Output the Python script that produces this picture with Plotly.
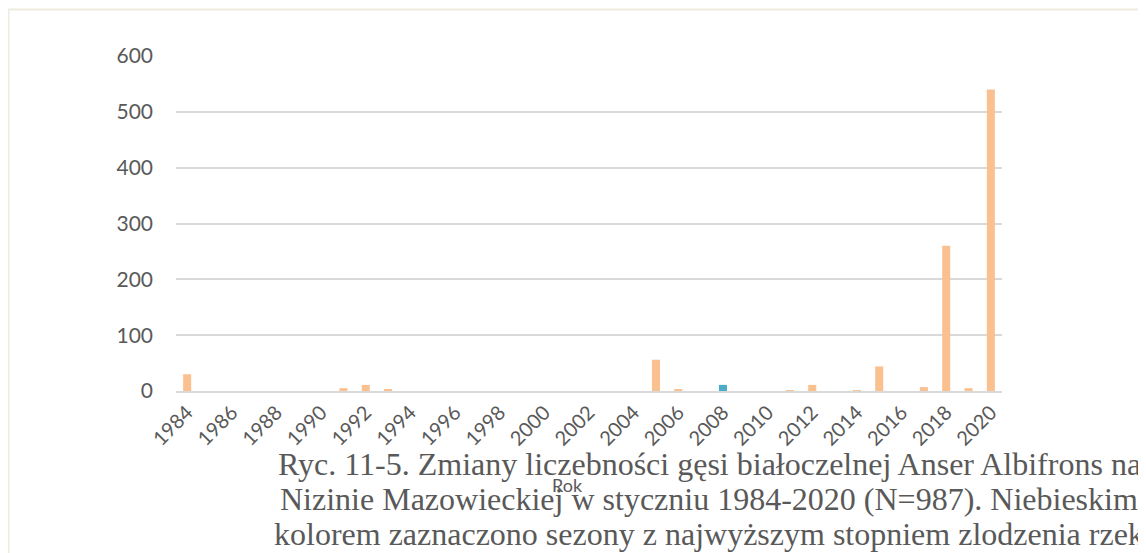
import plotly.graph_objects as go

years = list(range(1984, 2021))
counts = [30, 0, 0, 0, 0, 0, 0, 5, 11, 2, 0, 0, 0, 0, 0, 0, 0, 0, 0, 0, 0,
          56, 3, 0, 11, 0, 0, 1, 11, 0, 1, 44, 0, 7, 260, 5, 540]
blue_years = [2008]
tick_years = list(range(1984, 2021, 2))
y_ticks = [0, 100, 200, 300, 400, 500, 600]
caption_lines = [
    "Ryc. 11-5. Zmiany liczebności gęsi białoczelnej Anser Albifrons na",
    "Nizinie Mazowieckiej w styczniu 1984-2020 (N=987). Niebieskim",
    "kolorem zaznaczono sezony z najwyższym stopniem zlodzenia rzek",
]
x_title = "Rok"

OFF = 8  # page body margin
W, H = 1146 - OFF, 553 - OFF
L, R, T, B = 176 - OFF, 1002 - OFF, 56 - OFF, 391 - OFF
pw, ph = R - L, B - T

def px(x):  # window pixel -> paper
    return (x - OFF - L) / pw

def py(y):
    return (B - (y - OFF)) / ph

colors = ["#4BACC6" if y in blue_years else "#FAC090" for y in years]

fig = go.Figure()
fig.add_trace(go.Bar(x=[str(y) for y in years], y=counts,
                     marker=dict(color=colors, line=dict(width=0)), width=0.36))

fig.update_layout(
    width=W, height=H,
    margin=dict(l=L, r=W - R, t=T, b=H - B),
    plot_bgcolor="white", paper_bgcolor="white",
    showlegend=False,
    font=dict(family="Lato, Open Sans, sans-serif", color="#595959", size=20),
)
fig.update_xaxes(
    type="category",
    tickmode="array",
    tickvals=[str(y) for y in tick_years],
    ticktext=[str(y) for y in tick_years],
    tickangle=-45,
    tickfont=dict(size=20, color="#595959"),
    showgrid=False,
    showline=True, linecolor="#D9D9D9", linewidth=2,
    ticks="", ticklen=0,
    range=[-0.5, len(years) - 0.5],
)
fig.update_yaxes(
    range=[0, 600],
    tickvals=y_ticks,
    tickfont=dict(size=21, color="#595959"),
    showgrid=True, gridcolor="#D9D9D9", gridwidth=1.5,
    zeroline=False,
    showline=False,
    ticks="", ticklabelstandoff=22,
)

# outer chart border
fig.add_shape(type="rect", xref="paper", yref="paper",
              x0=px(8.5), x1=px(1190), y0=py(620), y1=py(9.5),
              line=dict(color="#EEEBE0", width=2), fillcolor="rgba(0,0,0,0)", layer="below")

fig.add_annotation(text=x_title, xref="paper", yref="paper", x=px(567), y=py(485),
                   showarrow=False, font=dict(size=18, color="#595959", family="Lato, sans-serif"),
                   xanchor="center", yanchor="middle")

for i, line in enumerate(caption_lines):
    fig.add_annotation(text=line, xref="paper", yref="paper", x=px(709), y=py(464 + 35 * i),
                       showarrow=False,
                       font=dict(size=32, color="#595959", family="Liberation Serif, Times New Roman, serif"),
                       xanchor="center", yanchor="middle")

fig.write_html("out.html")
